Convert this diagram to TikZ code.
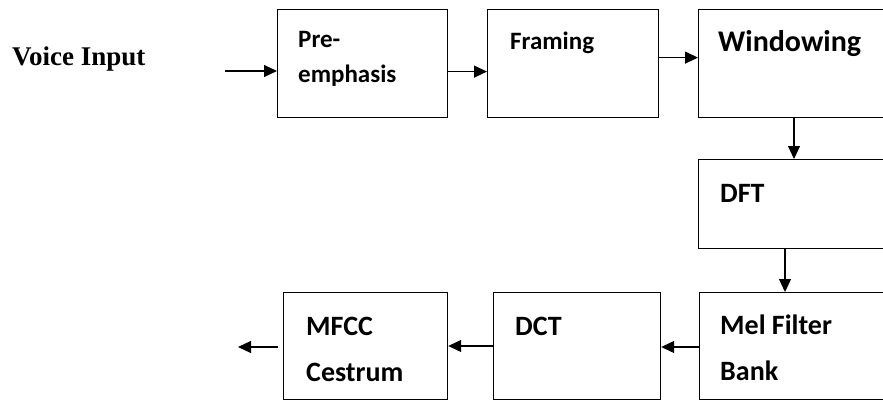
\documentclass[tikz,border=0pt]{standalone}
\usepackage{fontspec}
\newfontfamily\boxfont{Carlito}
\newfontfamily\titlefont{Liberation Serif}
\usetikzlibrary{arrows.meta}

\begin{document}
\begin{tikzpicture}[x=1pt, y=-1pt,
	blk/.style={draw, rectangle, line width=1.2pt, anchor=north west, inner sep=0pt},
	lbl/.style={anchor=base west, inner sep=0pt, align=left, font=\boxfont\bfseries\fontsize{28}{46}\selectfont},
	small/.style={font=\boxfont\bfseries\fontsize{25}{35}\selectfont},
	arr/.style={-{Triangle[length=13pt, width=12pt]}, line width=1.2pt}]
	\useasboundingbox (0,0) rectangle (883,401);
	\clip (0,0) rectangle (883,401);
	% top row
	\node[font=\titlefont\bfseries\fontsize{27}{27}\selectfont, anchor=base west, inner sep=0pt] (voice) at (12,66) {Voice Input};
	\node[blk, minimum width=170pt, minimum height=108pt] (pre) at (277,9) {};
	\node[blk, minimum width=171pt, minimum height=108pt] (frame) at (487,9) {};
	\node[blk, minimum width=200pt, minimum height=108pt] (win) at (698,9) {};
	\node[lbl, small] (preT) at (298,83) {Pre-\\emphasis};
	\node[lbl, small] (frameT) at (510,50) {Framing};
	\node[lbl, font=\boxfont\bfseries\fontsize{30}{30}\selectfont] (winT) at (718,52) {Windowing};
	% right column
	\node[blk, minimum width=200pt, minimum height=89pt] (dft) at (698,159) {};
	\node[blk, minimum width=200pt, minimum height=107pt] (mel) at (699,292) {};
	\node[lbl] (dftT) at (720,202) {DFT};
	\node[lbl] (melT) at (720,380) {Mel Filter\\Bank};
	% bottom row
	\node[blk, minimum width=167pt, minimum height=107pt] (dct) at (493,292) {};
	\node[blk, minimum width=164pt, minimum height=107pt] (mfcc) at (283,292) {};
	\node[lbl] (dctT) at (515,335) {DCT};
	\node[lbl] (mfccT) at (306,381) {MFCC\\Cestrum};
	% connectors
	\coordinate (in) at (225,71);
	\coordinate (out) at (238,347);
	\draw[arr] (in) -- (in -| pre.west);
	\draw[arr] ([yshift=-8pt]pre.east) -- ([yshift=-8pt]frame.west);
	\draw[arr] ([yshift=6pt]frame.east) -- ([yshift=6pt]win.west);
	\draw[arr] ([xshift=96pt]win.south west) coordinate (w1) -- (w1 |- dft.north);
	\draw[arr] ([xshift=87pt]dft.south west) coordinate (d1) -- (d1 |- mel.north);
	\draw[arr] ([yshift=-55pt]mel.north west) coordinate (m1) -- (m1 -| dct.east);
	\draw[arr] ([yshift=-54pt]dct.north west) coordinate (c1) -- (c1 -| mfcc.east);
	\draw[arr, shorten <=5pt] (mfcc.west |- out) -- (out);
\end{tikzpicture}
\end{document}
